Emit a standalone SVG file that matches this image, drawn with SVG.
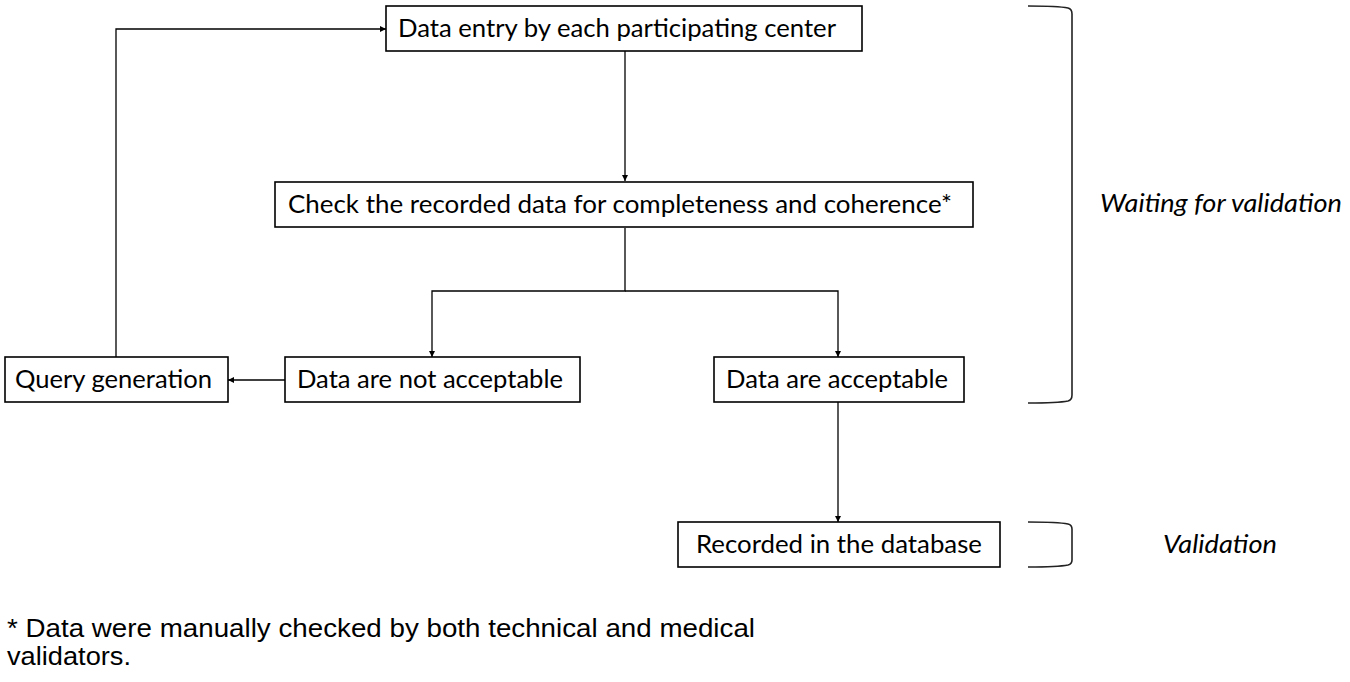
<svg xmlns="http://www.w3.org/2000/svg" width="1350" height="682" viewBox="0 0 1350 682">
<style>
  .box { fill: #ffffff; stroke: #000000; stroke-width: 1.6; }
  .lbl { font-family: Lato, "Open Sans", "Liberation Sans", sans-serif; font-size: 25px; fill: #000000; }
  .side { font-family: Lato, "Open Sans", "Liberation Sans", sans-serif; font-size: 25px; font-style: italic; fill: #000000; }
  .note { font-family: "Liberation Sans", Arial, sans-serif; font-size: 25px; fill: #000000; }
  .conn { fill: none; stroke: #000000; stroke-width: 1.3; }
  .brace { fill: none; stroke: #222222; stroke-width: 1.6; }
</style>
<defs>
  <marker id="arrow" viewBox="0 0 10 10" refX="10" refY="5" markerWidth="6" markerHeight="6" markerUnits="userSpaceOnUse" orient="auto">
    <path d="M0,0 L10,5 L0,10 z" fill="#000000"/>
  </marker>
</defs>
<rect width="1350" height="682" fill="#ffffff"/>

<g id="connectors">
  <path class="conn" d="M625,51 V181" marker-end="url(#arrow)"/>
  <path class="conn" d="M625,228 V291 H432 V357" marker-end="url(#arrow)"/>
  <path class="conn" d="M625,291 H838 V357" marker-end="url(#arrow)"/>
  <path class="conn" d="M285,380 H228" marker-end="url(#arrow)"/>
  <path class="conn" d="M116,357 V29 H386" marker-end="url(#arrow)"/>
  <path class="conn" d="M838,402 V522" marker-end="url(#arrow)"/>
</g>

<g id="node-entry">
  <rect class="box" x="386" y="6" width="476" height="45"/>
  <text class="lbl" x="398" y="37" textLength="438" lengthAdjust="spacingAndGlyphs">Data entry by each participating center</text>
</g>
<g id="node-check">
  <rect class="box" x="275" y="182" width="698" height="45"/>
  <text class="lbl" x="288" y="213" textLength="664" lengthAdjust="spacingAndGlyphs">Check the recorded data for completeness and coherence*</text>
</g>
<g id="node-query">
  <rect class="box" x="5" y="357" width="223" height="45"/>
  <text class="lbl" x="15" y="388" textLength="197" lengthAdjust="spacingAndGlyphs">Query generation</text>
</g>
<g id="node-notacc">
  <rect class="box" x="285" y="357" width="295" height="45"/>
  <text class="lbl" x="297" y="388" textLength="266" lengthAdjust="spacingAndGlyphs">Data are not acceptable</text>
</g>
<g id="node-acc">
  <rect class="box" x="714" y="357" width="250" height="45"/>
  <text class="lbl" x="726" y="388" textLength="222" lengthAdjust="spacingAndGlyphs">Data are acceptable</text>
</g>
<g id="node-recorded">
  <rect class="box" x="678" y="522" width="322" height="45"/>
  <text class="lbl" x="696" y="553" textLength="286" lengthAdjust="spacingAndGlyphs">Recorded in the database</text>
</g>

<g id="bracket-waiting">
  <path class="brace" d="M1028,6 Q1058,6 1068,8 Q1072,9 1072,14 V395 Q1072,400 1068,401 Q1058,403 1028,403"/>
  <text class="side" x="1100" y="212" textLength="242" lengthAdjust="spacingAndGlyphs">Waiting for validation</text>
</g>
<g id="bracket-validation">
  <path class="brace" d="M1028,522 Q1058,522 1068,524 Q1072,525 1072,529 V560 Q1072,564 1068,565 Q1058,567 1028,567"/>
  <text class="side" x="1163" y="553" textLength="114" lengthAdjust="spacingAndGlyphs">Validation</text>
</g>

<g id="footnote">
  <text class="note" x="7" y="637" textLength="748" lengthAdjust="spacingAndGlyphs">* Data were manually checked by both technical and medical</text>
  <text class="note" x="7" y="665" textLength="124" lengthAdjust="spacingAndGlyphs">validators.</text>
</g>
</svg>
